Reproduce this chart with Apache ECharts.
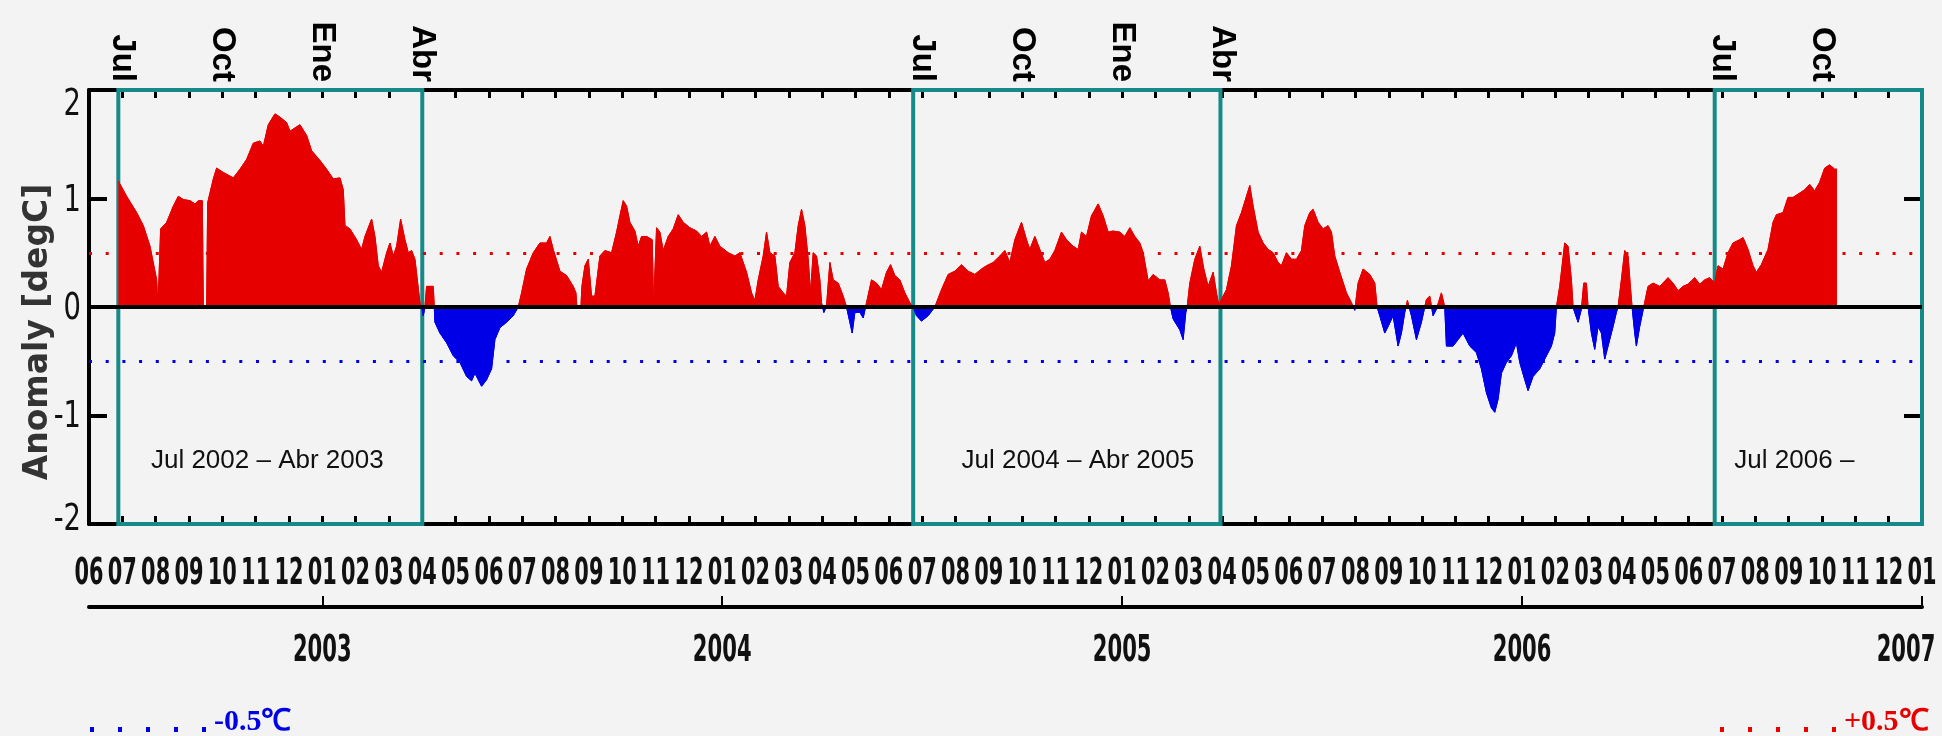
<!DOCTYPE html>
<html>
<head>
<meta charset="utf-8">
<script src="https://cdn.jsdelivr.net/npm/echarts@6/dist/echarts.min.js"></script>
<style>
html,body{margin:0;padding:0;background:#f3f3f3;}
#chart{width:1942px;height:736px;}
</style>
</head>
<body>
<div id="chart"></div>
<script>
// x = months since 1 Jun 2002 (0 = Jun 2002, 55 = Jan 2007)
const monthPos = [
0.88,1.13,1.43,1.63,1.83,2.03,2.07,2.13,2.15,2.33,2.53,2.68,2.83,3.03,3.18,3.28,3.40,3.43,3.53,3.56,
3.73,3.83,4.03,4.33,4.53,4.73,4.93,5.13,5.23,5.38,5.58,5.73,5.93,6.03,6.18,6.33,6.53,6.68,6.93,7.13,
7.33,7.53,7.63,7.68,7.83,8.03,8.18,8.28,8.48,8.58,8.68,8.78,8.93,9.03,9.13,9.23,9.35,9.48,9.58,9.68,
9.78,9.93,9.98,10.03,10.08,10.13,10.33,10.36,10.38,10.53,10.73,10.93,11.13,11.33,11.48,11.58,11.78,11.93,12.08,12.18,
12.33,12.53,12.73,12.88,12.98,13.13,13.33,13.53,13.73,13.83,13.93,14.13,14.33,14.53,14.61,14.64,14.76,14.79,14.88,14.98,
15.08,15.18,15.33,15.48,15.68,15.83,15.93,16.03,16.13,16.23,16.38,16.48,16.58,16.73,16.90,16.94,16.99,17.03,17.13,17.23,
17.38,17.53,17.68,17.83,18.03,18.23,18.38,18.53,18.63,18.78,18.93,19.18,19.38,19.53,19.73,19.88,19.98,20.08,20.23,20.33,
20.43,20.58,20.68,20.83,20.93,21.03,21.18,21.28,21.38,21.48,21.58,21.65,21.73,21.83,21.93,21.98,22.05,22.13,22.23,22.33,
22.48,22.63,22.73,22.83,22.90,22.98,23.13,23.23,23.33,23.48,23.63,23.78,23.93,24.05,24.18,24.33,24.48,24.63,24.73,24.83,
24.98,25.18,25.38,25.58,25.78,25.98,26.18,26.38,26.58,26.78,26.93,27.13,27.33,27.48,27.63,27.78,27.98,28.13,28.23,28.38,
28.53,28.68,28.83,28.98,29.18,29.33,29.53,29.68,29.78,29.93,30.08,30.28,30.43,30.58,30.73,30.93,31.08,31.23,31.38,31.53,
31.63,31.78,31.93,32.13,32.28,32.38,32.45,32.53,32.73,32.83,32.91,32.95,33.03,33.18,33.33,33.45,33.58,33.73,33.83,33.90,
33.98,34.13,34.28,34.43,34.58,34.73,34.83,34.93,35.08,35.23,35.38,35.53,35.68,35.78,35.93,36.08,36.23,36.38,36.48,36.63,
36.73,36.88,37.03,37.18,37.28,37.38,37.53,37.73,37.88,37.98,38.08,38.23,38.43,38.58,38.65,38.73,38.88,38.98,39.13,39.28,
39.38,39.48,39.56,39.68,39.83,39.98,40.13,40.23,40.33,40.43,40.58,40.68,40.73,40.93,41.08,41.23,41.43,41.63,41.78,41.93,
42.08,42.18,42.28,42.38,42.53,42.68,42.83,42.93,43.08,43.18,43.33,43.53,43.73,43.88,43.98,44.03,44.13,44.28,44.38,44.48,
44.53,44.58,44.68,44.78,44.85,44.93,44.98,45.08,45.18,45.28,45.38,45.48,45.58,45.73,45.83,45.88,45.98,46.08,46.18,46.25,
46.30,46.38,46.43,46.53,46.65,46.78,46.93,47.13,47.38,47.53,47.68,47.83,47.98,48.18,48.33,48.48,48.63,48.78,48.88,49.03,
49.18,49.33,49.53,49.63,49.78,49.93,50.03,50.18,50.38,50.53,50.63,50.83,50.98,51.13,51.33,51.48,51.63,51.78,51.93,52.08,
52.23,52.38,52.45
];
const anomaly = [
1.16,1.02,0.87,0.75,0.56,0.25,0,0,0.72,0.78,0.93,1.02,0.99,0.98,0.95,0.98,0.98,0,0,0.96,
1.18,1.28,1.24,1.19,1.27,1.36,1.51,1.53,1.48,1.68,1.78,1.75,1.70,1.62,1.65,1.68,1.58,1.44,1.35,1.27,
1.18,1.19,1.08,0.75,0.72,0.62,0.53,0.65,0.81,0.65,0.38,0.32,0.50,0.59,0.47,0.56,0.81,0.62,0.50,0.52,
0.44,0.04,0,-0.08,0,0.19,0.19,0,-0.14,-0.24,-0.33,-0.45,-0.51,-0.64,-0.68,-0.61,-0.73,-0.67,-0.57,-0.30,
-0.19,-0.14,-0.08,0,0.13,0.35,0.50,0.59,0.59,0.65,0.53,0.33,0.29,0.19,0.13,0,0,0.19,0.38,0.44,
0.10,0.10,0.47,0.52,0.50,0.69,0.84,0.98,0.93,0.78,0.70,0.56,0.65,0.65,0.62,0,0,0.73,0.69,0.52,
0.65,0.72,0.85,0.78,0.73,0.70,0.65,0.69,0.56,0.65,0.56,0.50,0.47,0.50,0.32,0.13,0.06,0.25,0.47,0.69,
0.50,0.47,0.19,0.13,0.10,0.41,0.50,0.75,0.90,0.75,0.44,0.13,0.50,0.47,0.25,0.04,-0.05,0.01,0.41,0.25,
0.22,0.10,0,-0.14,-0.24,-0.05,-0.05,-0.10,0.04,0.25,0.22,0.16,0.32,0.39,0.29,0.25,0.13,0.04,0,-0.08,
-0.13,-0.08,0,0.16,0.30,0.33,0.39,0.33,0.30,0.35,0.38,0.41,0.47,0.52,0.41,0.62,0.78,0.62,0.53,0.65,
0.53,0.41,0.44,0.52,0.69,0.62,0.56,0.53,0.69,0.65,0.84,0.95,0.84,0.69,0.70,0.69,0.65,0.73,0.65,0.59,
0.50,0.24,0.30,0.25,0.25,0.13,0,-0.11,-0.21,-0.30,-0.05,0,0.22,0.44,0.56,0.35,0.19,0.32,0.13,0.02,
0.07,0.16,0.38,0.75,0.87,1.02,1.12,0.93,0.69,0.59,0.53,0.50,0.41,0.38,0.50,0.44,0.44,0.52,0.75,0.87,
0.90,0.78,0.72,0.75,0.69,0.47,0.32,0.13,0.04,-0.03,0.22,0.35,0.30,0.22,0,-0.08,-0.24,-0.18,-0.08,-0.36,
-0.24,-0.05,0.06,-0.08,-0.30,-0.14,0.07,0.10,-0.08,-0.02,0.13,0,-0.36,-0.36,-0.30,-0.24,-0.36,-0.42,-0.57,-0.79,
-0.93,-0.97,-0.85,-0.61,-0.51,-0.45,-0.33,-0.51,-0.67,-0.77,-0.64,-0.57,-0.45,-0.36,-0.24,0,0.19,0.59,0.56,0.25,
0,-0.05,-0.14,-0.02,0.22,0.22,0,-0.24,-0.39,-0.18,-0.24,-0.48,-0.36,-0.18,-0.05,0,0.25,0.52,0.47,0.19,
0,-0.24,-0.36,-0.18,0,0.19,0.22,0.19,0.27,0.22,0.15,0.19,0.21,0.27,0.21,0.25,0.27,0.22,0.38,0.35,
0.50,0.59,0.62,0.64,0.53,0.38,0.32,0.39,0.53,0.78,0.85,0.87,1.01,1.01,1.05,1.08,1.13,1.07,1.15,1.28,
1.31,1.27,1.27
];
const monthLabels = ['06','07','08','09','10','11','12',
 '01','02','03','04','05','06','07','08','09','10','11','12',
 '01','02','03','04','05','06','07','08','09','10','11','12',
 '01','02','03','04','05','06','07','08','09','10','11','12',
 '01','02','03','04','05','06','07','08','09','10','11','12',
 '01'];
const topLabelMonths = [1,4,7,10,25,28,31,34,49,52];
const topLabels = ['Jul','Oct','Ene','Abr','Jul','Oct','Ene','Abr','Jul','Oct'];
const yearMonths = [7,19,31,43,55];
const yearLabels = ['2003','2004','2005','2006','2007'];
const yTickValues = [-2,-1,0,1,2];
const yTickLabels = ['-2','-1','0','1','2'];
const thresholds = [0.5, -0.5];
const thresholdLabels = ['+0.5\u2103', '-0.5\u2103'];
const boxStarts = [0.88, 24.73, 48.78];
const boxEnds = [10, 33.95, 55];
const boxLabels = ['Jul 2002 \u2013 Abr 2003', 'Jul 2004 \u2013 Abr 2005', 'Jul 2006 \u2013'];

const RED = '#e60000', BLUE = '#0000e6', TEAL = '#168a88';
const XMAX = monthLabels.length - 1;
const W = 1942;

const chart = echarts.init(document.getElementById('chart'), null, {renderer: 'canvas'});
const seriesData = monthPos.map((m, i) => [m, anomaly[i]]);
const boxOffsets = [[-3, 0], [11, 0], [-24, 0]];
const yLabelNudge = [-4, 2, 2, 3, 15];

const baseX = {type: 'value', min: 0, max: XMAX, interval: 1, splitLine: {show: false}};

const option = {
  backgroundColor: '#f3f3f3',
  animation: false,
  grid: {left: 89, right: 20, top: 90, bottom: 212, containLabel: false},
  xAxis: [
    Object.assign({}, baseX, {
      position: 'bottom',
      axisLine: {onZero: false, lineStyle: {color: '#000', width: 4}},
      axisTick: {inside: true, length: 8, lineStyle: {color: '#000', width: 3}},
      axisLabel: {show: false}
    }),
    Object.assign({}, baseX, {
      position: 'top',
      axisLine: {onZero: false, lineStyle: {color: '#000', width: 4}},
      axisTick: {inside: true, length: 8, lineStyle: {color: '#000', width: 3}},
      axisLabel: {
        show: true, rotate: 90, margin: 8,
        fontFamily: "'Liberation Sans', Arial, sans-serif", fontWeight: 'bold', fontSize: 33, color: '#000',
        formatter: v => { const i = topLabelMonths.indexOf(v); return i >= 0 ? topLabels[i] : ''; }
      }
    }),
    Object.assign({}, baseX, {
      position: 'bottom', offset: 83,
      axisLine: {onZero: false, lineStyle: {color: '#000', width: 4}},
      axisTick: {inside: true, length: 11, customValues: yearMonths, lineStyle: {color: '#000', width: 2}},
      axisLabel: {show: false}
    })
  ],
  yAxis: [
    {
      type: 'value', min: -2, max: 2, interval: 1, position: 'left',
      name: 'Anomaly [degC]', nameLocation: 'middle', nameRotate: 90, nameGap: 34,
      nameTextStyle: {fontFamily: "'DejaVu Sans', sans-serif", fontWeight: 'bold', fontSize: 33, color: '#333',
        padding: [0, 50, 0, 0]},
      axisLine: {show: true, onZero: false, lineStyle: {color: '#000', width: 4}},
      axisTick: {show: true, inside: true, length: 18, lineStyle: {color: '#000', width: 4}},
      axisLabel: {show: false},
      splitLine: {show: false}
    },
    {
      type: 'value', min: -2, max: 2, interval: 1, position: 'right',
      axisLine: {show: false, onZero: false},
      axisTick: {show: true, inside: true, length: 18, lineStyle: {color: '#000', width: 4}},
      axisLabel: {show: false},
      splitLine: {show: false}
    }
  ],
  visualMap: {
    show: false, type: 'piecewise', seriesIndex: 0, dimension: 1,
    pieces: [{gt: 0, lte: 5, color: RED}, {gte: -5, lte: 0, color: BLUE}],
    outOfRange: {color: '#999'}
  },
  series: [
    {
      name: 'Anomaly', type: 'line', xAxisIndex: 0, yAxisIndex: 0,
      data: seriesData, showSymbol: false, symbol: 'none',
      lineStyle: {width: 1}, areaStyle: {opacity: 1, origin: 0},
      z: 2, silent: true
    },
    {
      name: 'refs', type: 'line', xAxisIndex: 0, yAxisIndex: 0, data: [], z: 4, silent: true,
      markLine: {
        silent: true, symbol: ['none', 'none'], label: {show: false}, animation: false,
        data: [
          {yAxis: 0, lineStyle: {color: '#000', width: 4, type: 'solid'}},
          {yAxis: thresholds[0], lineStyle: {color: RED, width: 3, type: [3, 13.7]}},
          {yAxis: thresholds[1], lineStyle: {color: BLUE, width: 3, type: [3, 13.7]}}
        ]
      }
    },
    {
      name: 'boxes', type: 'line', xAxisIndex: 0, yAxisIndex: 0, data: [], z: 5, silent: true,
      markArea: {
        silent: true,
        itemStyle: {color: 'rgba(0,0,0,0)', borderColor: TEAL, borderWidth: 4},
        label: {
          show: true, position: 'insideBottom', distance: 52,
          fontFamily: "'Liberation Sans', Arial, sans-serif", fontSize: 26, color: '#111'
        },
        data: boxStarts.map((s, i) => [
          {name: boxLabels[i], xAxis: s, label: {offset: boxOffsets[i]}},
          {xAxis: boxEnds[i]}
        ])
      }
    }
  ]
};
chart.setOption(option);

// Condensed (horizontally squeezed) tick labels, placed through the axes' own scales
const g = [];
const condensed = (x, y, text, size, sx, align, weight) => ({
  type: 'text', x: x, y: y, scaleX: sx, silent: true, z: 10,
  style: {text: text, fontFamily: "'DejaVu Sans', sans-serif", fontWeight: weight, fontSize: size,
    fill: '#111', align: align, verticalAlign: 'middle'}
});
monthLabels.forEach((t, i) => {
  g.push(condensed(chart.convertToPixel({xAxisIndex: 0}, i), 574, t, 38, 0.55, 'center', 'bold'));
});
yearMonths.forEach((m, i) => {
  const x = Math.min(chart.convertToPixel({xAxisIndex: 0}, m), W - 36);
  g.push(condensed(x, 651, yearLabels[i], 37, 0.57, 'center', 'bold'));
});
yTickValues.forEach((v, i) => {
  g.push(condensed(81, chart.convertToPixel({yAxisIndex: 0}, v) + yLabelNudge[i], yTickLabels[i], 37, 0.74, 'right', 'normal'));
});
// threshold legend
[[BLUE, 90, thresholdLabels[1]], [RED, 1720, thresholdLabels[0]]].forEach(([col, x0, txt]) => {
  for (let k = 0; k < 5; k++) {
    g.push({type: 'rect', silent: true, shape: {x: x0 + k * 28, y: 727, width: 4, height: 5}, style: {fill: col}});
  }
  g.push({type: 'text', silent: true, x: x0 + 124, y: 722,
    style: {text: txt, fill: col, fontFamily: "'Liberation Serif', serif", fontWeight: 'bold', fontSize: 30,
      align: 'left', verticalAlign: 'middle'}});
});
chart.setOption({graphic: g});
</script>
</body>
</html>
